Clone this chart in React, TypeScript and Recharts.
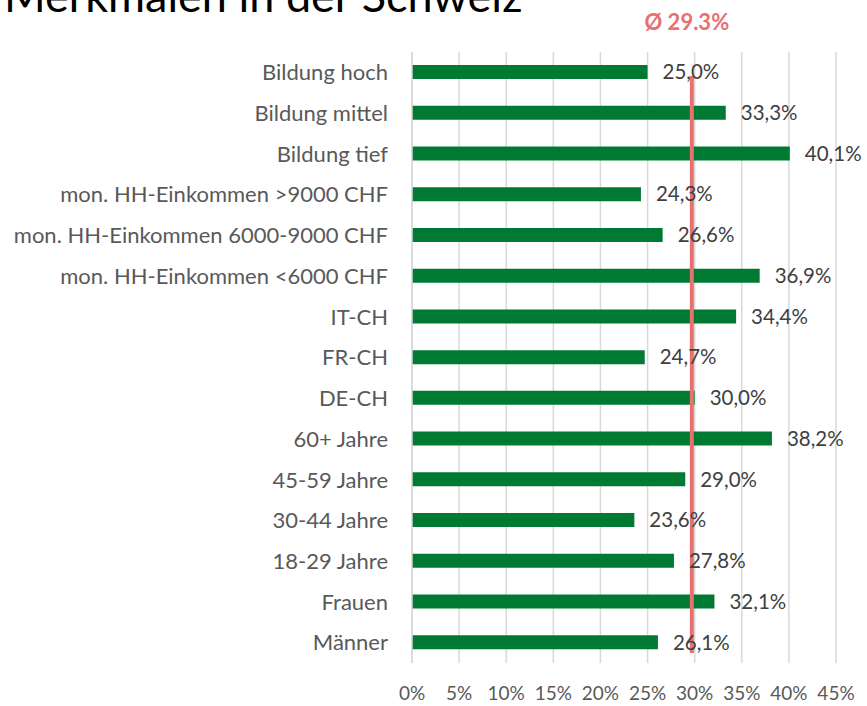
import { BarChart, Bar, XAxis, YAxis, CartesianGrid, ReferenceLine, LabelList } from 'recharts'

const categories = [
  'Bildung hoch',
  'Bildung mittel',
  'Bildung tief',
  'mon. HH-Einkommen >9000 CHF',
  'mon. HH-Einkommen 6000-9000 CHF',
  'mon. HH-Einkommen <6000 CHF',
  'IT-CH',
  'FR-CH',
  'DE-CH',
  '60+ Jahre',
  '45-59 Jahre',
  '30-44 Jahre',
  '18-29 Jahre',
  'Frauen',
  'Männer'
]

const shares = [0.25, 0.333, 0.401, 0.243, 0.266, 0.369, 0.344, 0.247, 0.3, 0.382, 0.29, 0.236, 0.278, 0.321, 0.261]

const xTicks = [0, 0.05, 0.1, 0.15, 0.2, 0.25, 0.3, 0.35, 0.4, 0.45]

// the line sits a bit right of 29.3% in the original
const averageLine = 0.297
const averageLabel = 'Ø 29.3%'

const FONT = 'Lato, "Open Sans", sans-serif'
const GREEN = '#007A33'
const RED = '#E8706F'

const data = categories.map((name, i) => ({ name, value: shares[i] }))

// extend the average line a bit past the plot area, like the original
const AvgLine = (props: any) => {
  const { x1, y1, x2, y2 } = props
  return <line x1={x1} y1={y1 - 10} x2={x2} y2={y2 + 24} stroke={RED} strokeWidth={4} />
}

export default function App() {
  return (
    <div style={{ position: 'absolute', left: 0, top: 0, width: 867, height: 706, overflow: 'hidden', background: '#fff' }}>
      <div
        style={{
          position: 'absolute',
          left: 4,
          top: -32,
          fontFamily: FONT,
          fontSize: 45,
          color: '#000',
          whiteSpace: 'nowrap'
        }}
      >
        Merkmalen in der Schweiz
      </div>
      <BarChart
        width={867}
        height={706}
        data={data}
        layout="vertical"
        margin={{ top: 52, right: 31, bottom: 0, left: 0 }}
        style={{ fontFamily: FONT }}
      >
        <CartesianGrid horizontal={false} stroke="#d9d9d9" strokeWidth={1.5} />
        <XAxis
          type="number"
          domain={[0, 0.45]}
          ticks={xTicks}
          axisLine={false}
          tickLine={false}
          tickMargin={18}
          height={43}
          tick={{ fontSize: 19, fill: '#595959' }}
          tickFormatter={(v: number) => `${Math.round(v * 100)}%`}
          interval={0}
        />
        <YAxis
          type="category"
          dataKey="name"
          width={412}
          axisLine={{ stroke: '#d9d9d9', strokeWidth: 1.5 }}
          tickLine={false}
          tickMargin={18}
          tick={{ fontSize: 22, fill: '#595959' }}
          interval={0}
        />
        <Bar dataKey="value" fill={GREEN} barSize={14} isAnimationActive={false}>
          <LabelList
            dataKey="value"
            position="right"
            offset={15}
            fill="#404040"
            fontSize={20.5}
            formatter={(v: any) => `${(Number(v) * 100).toFixed(1).replace('.', ',')}%`}
          />
        </Bar>
        <ReferenceLine
          x={averageLine}
          shape={AvgLine}
          label={{
            value: averageLabel,
            position: 'top',
            offset: 22,
            dx: -5,
            fill: RED,
            fontSize: 22,
            fontWeight: 700
          }}
        />
      </BarChart>
    </div>
  )
}
